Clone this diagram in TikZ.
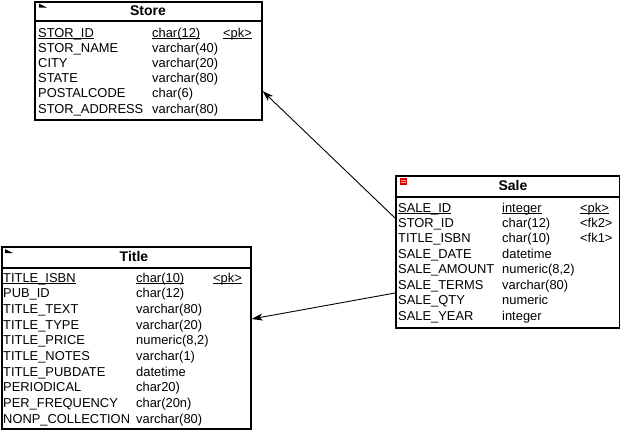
\documentclass[tikz,border=0pt]{standalone}
\usepackage{fontspec}
\setmainfont{Liberation Sans}
\usetikzlibrary{arrows.meta}
\newcommand\myul[1]{\setbox0\hbox{#1}\rlap{\rule[-2pt]{\wd0}{0.75pt}}\box0}
\tikzset{
  tbl/.style={draw=black, line width=1.6pt, inner sep=0pt, anchor=north west, fill=white},
  sep/.style={line width=1.6pt},
  hdr/.style={anchor=base, inner sep=0pt, font=\fontsize{14}{16}\selectfont\bfseries},
  cell/.style={anchor=base west, inner sep=0pt, font=\fontsize{12.9}{14}\selectfont},
  rel/.style={line width=0.9pt, -{Stealth[length=11pt,width=7pt,inset=3pt]}},
  icon/.style={fill=black},
}
\begin{document}
\begin{tikzpicture}[x=1pt,y=-1pt]
\useasboundingbox (0,0) rectangle (620,429);

% ---------- Store ----------
\node[tbl, minimum width=227pt, minimum height=118pt] (store) at (34,1) {};
\draw[sep] (34,21) -- (261,21);
\fill[icon] (39,3.5) -- (39,7.5) -- (47,7.5) -- cycle;
\node[hdr] (storeh) at (148,15) {Store};
\foreach \n/\t/\k [count=\i from 0] in {%
  STOR\_ID/char(12)/pk,
  STOR\_NAME/varchar(40)/,
  CITY/varchar(20)/,
  STATE/varchar(80)/,
  POSTALCODE/char(6)/,
  STOR\_ADDRESS/varchar(80)/}{%
  \pgfmathsetmacro{\yy}{37+15.2*\i}
  \ifnum\i=0
    \node[cell] (st\i a) at (38,\yy) {\myul{\n}};
    \node[cell] (st\i b) at (152,\yy) {\myul{\t}};
    \node[cell] (st\i c) at (223,\yy) {\myul{<\k>}};
  \else
    \node[cell] (st\i a) at (38,\yy) {\n};
    \node[cell] (st\i b) at (152,\yy) {\t};
  \fi
}

% ---------- Sale ----------
\node[tbl, minimum width=224pt, minimum height=152pt] (sale) at (395,175) {};
\draw[sep] (395,197) -- (619,197);
\fill[red!85!black] (400,177.5) rectangle (407,184.5);
\draw[red!40!white, line width=0.4pt] (401,180) -- (406,180) (401,182.5) -- (406,182.5);
\node[hdr] (saleh) at (513,190) {Sale};
\foreach \n/\t [count=\i from 0] in {%
  SALE\_ID/integer,
  STOR\_ID/char(12),
  TITLE\_ISBN/char(10),
  SALE\_DATE/datetime,
  SALE\_AMOUNT/{numeric(8,2)},
  SALE\_TERMS/varchar(80),
  SALE\_QTY/numeric,
  SALE\_YEAR/integer}{%
  \pgfmathsetmacro{\yy}{212+15.47*\i}
  \ifnum\i=0
    \node[cell] (sa\i a) at (398,\yy) {\myul{\n}};
    \node[cell] (sa\i b) at (502,\yy) {\myul{\t}};
  \else
    \node[cell] (sa\i a) at (398,\yy) {\n};
    \node[cell] (sa\i b) at (502,\yy) {\t};
  \fi
}
\node[cell] (sa0c) at (580,212) {\myul{<pk>}};
\node[cell] (sa1c) at (580,227.47) {<fk2>};
\node[cell] (sa2c) at (580,242.94) {<fk1>};

% ---------- Title ----------
\node[tbl, minimum width=249pt, minimum height=182pt] (title) at (1,246) {};
\draw[sep] (1,268) -- (250,268);
\fill[icon] (5,249) -- (5,253) -- (13,253) -- cycle;
\node[hdr] (titleh) at (134,261) {Title};
\foreach \n/\t [count=\i from 0] in {%
  TITLE\_ISBN/char(10),
  PUB\_ID/char(12),
  TITLE\_TEXT/varchar(80),
  TITLE\_TYPE/varchar(20),
  TITLE\_PRICE/{numeric(8,2)},
  TITLE\_NOTES/varchar(1),
  TITLE\_PUBDATE/datetime,
  PERIODICAL/char20),
  PER\_FREQUENCY/char(20n),
  NONP\_COLLECTION/varchar(80)}{%
  \pgfmathsetmacro{\yy}{282+15.67*\i}
  \ifnum\i=0
    \node[cell] (ti\i a) at (3,\yy) {\myul{\n}};
    \node[cell] (ti\i b) at (136,\yy) {\myul{\t}};
  \else
    \node[cell] (ti\i a) at (3,\yy) {\n};
    \node[cell] (ti\i b) at (136,\yy) {\t};
  \fi
}
\node[cell] (ti0c) at (213,282) {\myul{<pk>}};

% ---------- relations ----------
\coordinate (saleA) at (sale.west |- 0,218);
\coordinate (storeA) at (store.east |- 0,91);
\coordinate (saleB) at (sale.west |- 0,293);
\coordinate (titleB) at (title.east |- 0,319);
\draw[rel] (saleA) -- (storeA);
\draw[rel] (saleB) -- (titleB);
\end{tikzpicture}
\end{document}
